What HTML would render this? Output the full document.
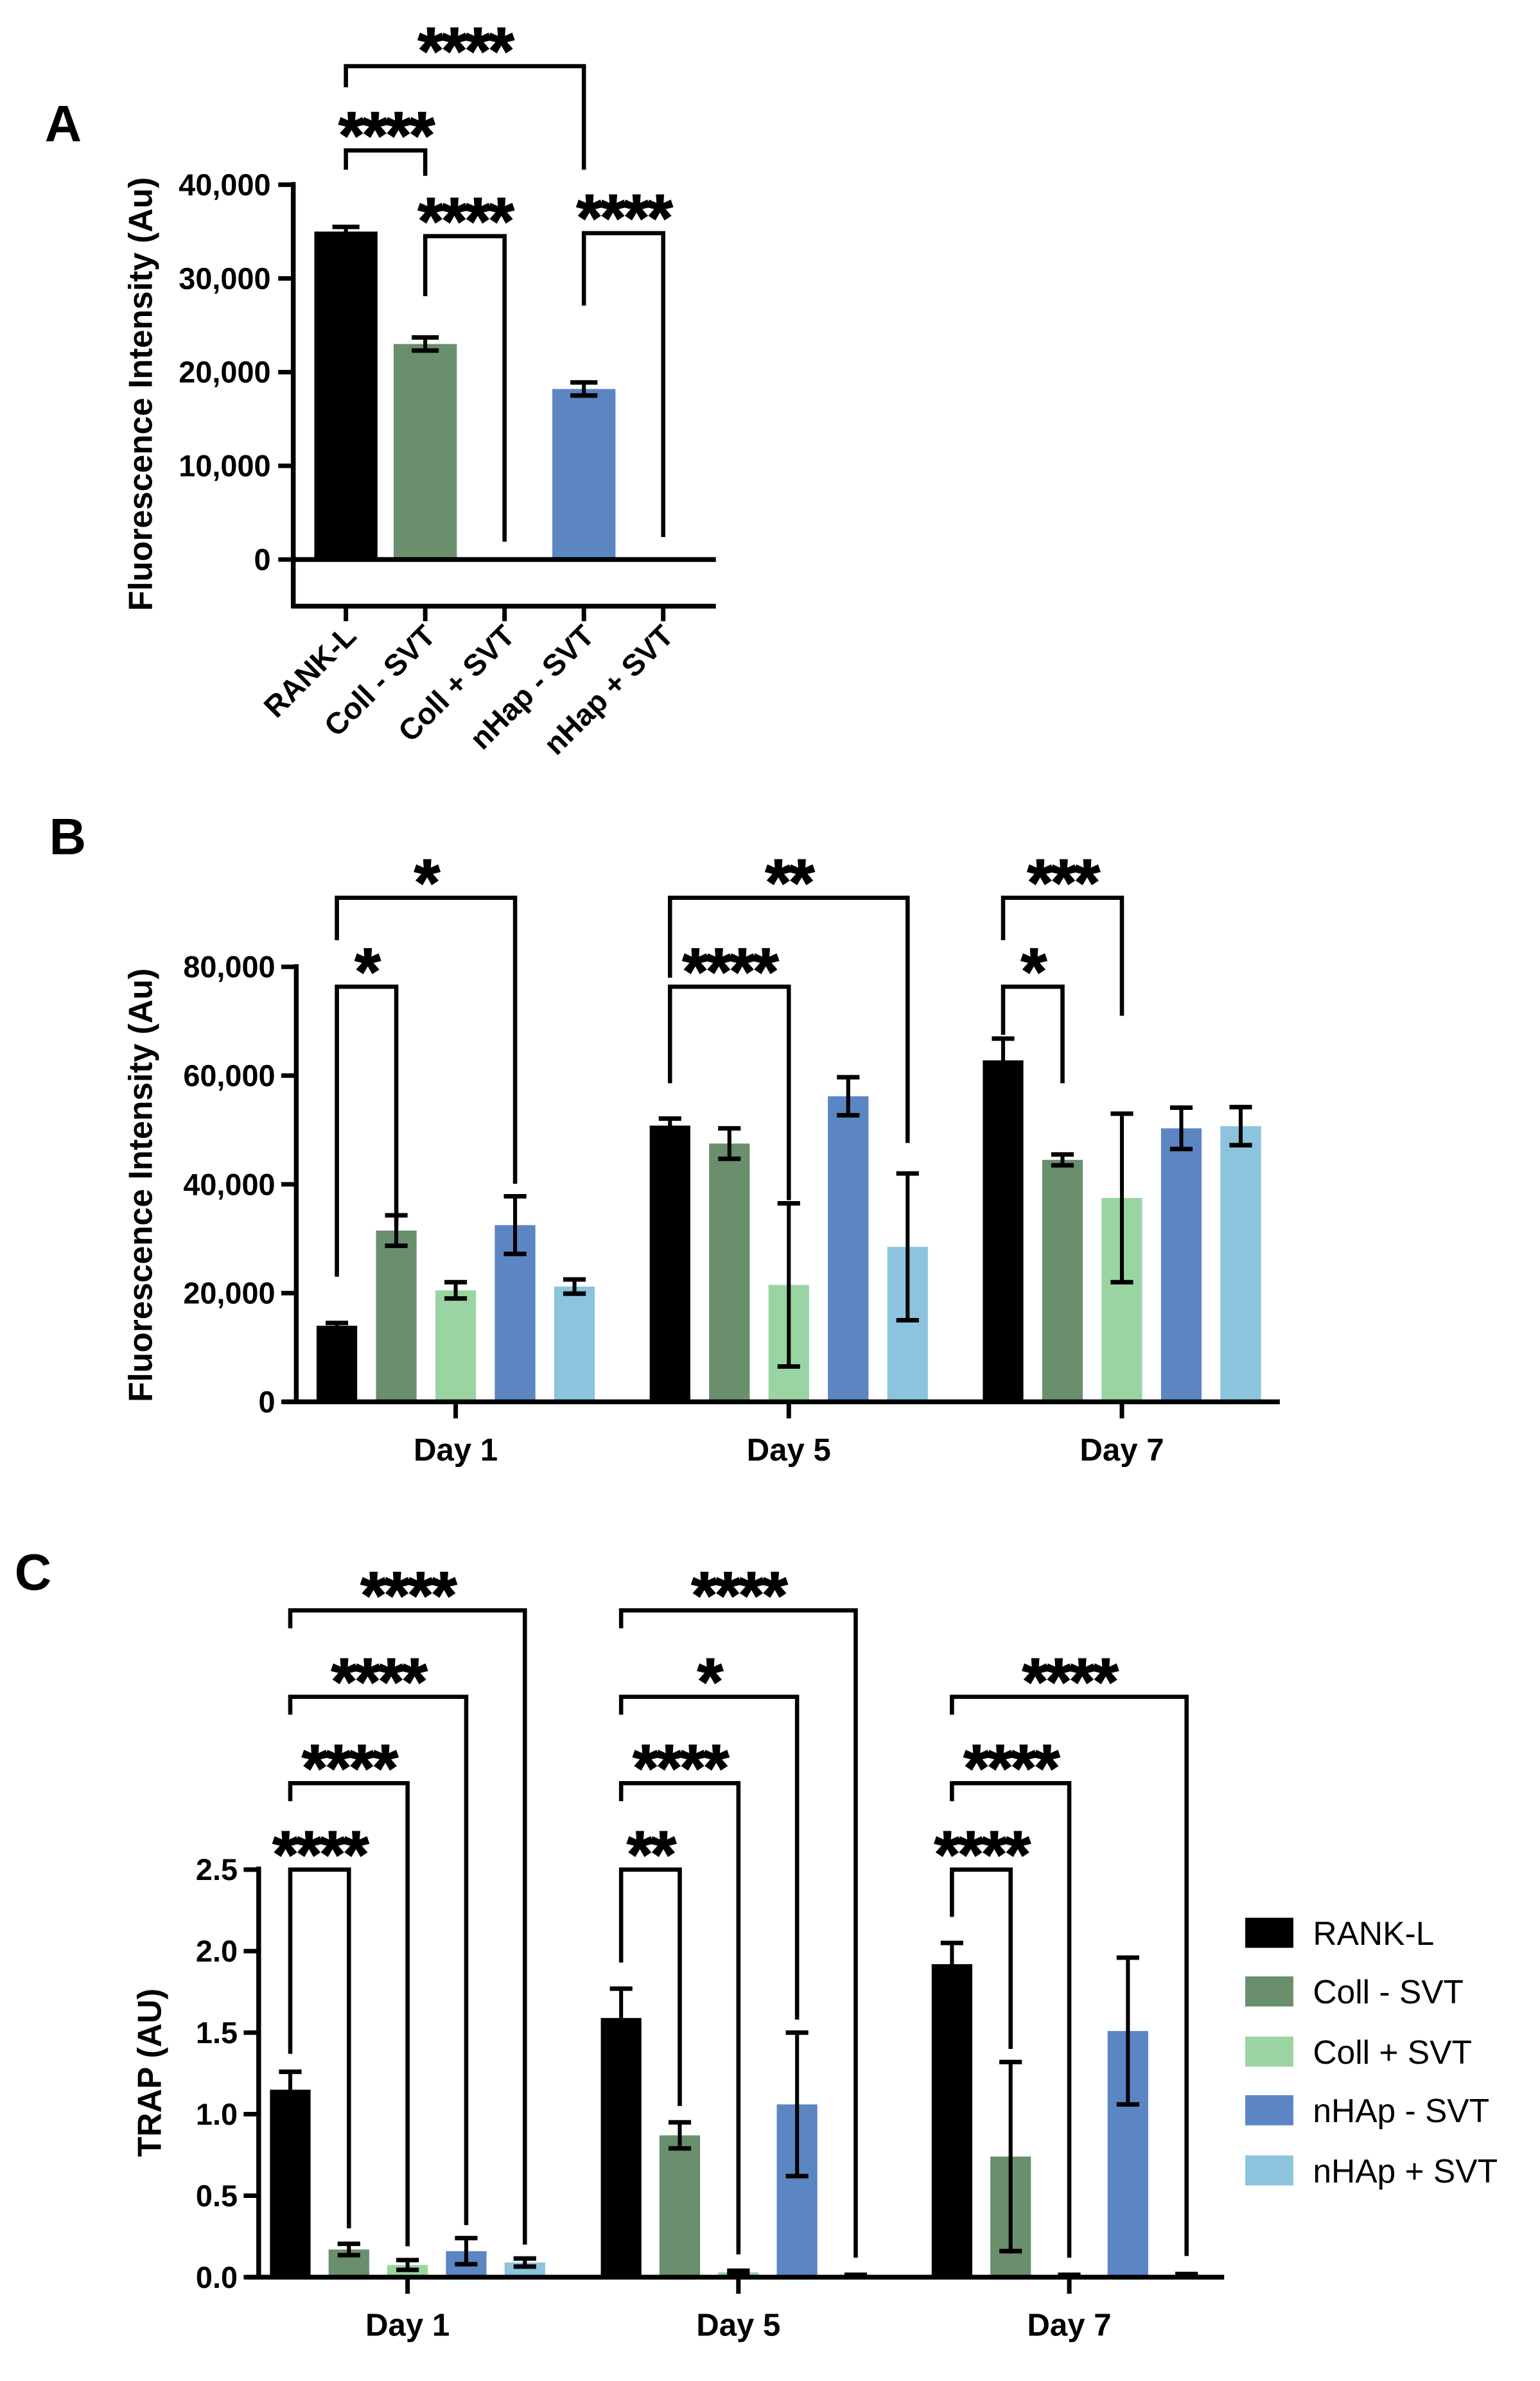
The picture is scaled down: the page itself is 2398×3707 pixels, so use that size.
<!DOCTYPE html>
<html><head><meta charset="utf-8"><style>
html,body{margin:0;padding:0;background:#fff;}
svg{display:block;}
text{font-family:"Liberation Sans",Arial,sans-serif;}
</style></head><body>
<svg id="fig" xmlns="http://www.w3.org/2000/svg" width="2398" height="3707" viewBox="0 0 1024 1583">
<rect width="1024" height="1583" fill="#fff"/>
</svg>
<script>
// ---------- DATA ----------
const colors = ["#000000", "#6a8f6d", "#9bd4a3", "#5b86c3", "#8cc4de"];
const seriesNames = ["RANK-L", "Coll - SVT", "Coll + SVT", "nHAp - SVT", "nHAp + SVT"];

// Panel A
const aCategories = ["RANK-L", "Coll - SVT", "Coll + SVT", "nHap - SVT", "nHap + SVT"];
const aValues = [35000, 23000, -200, 18200, -150];
const aErrors = [500, 700, 0, 700, 0];
const aTicks = [0, 10000, 20000, 30000, 40000];
const aTickLabels = ["0", "10,000", "20,000", "30,000", "40,000"];
const aBrackets = [
  [0, 1, 43660, 41600, 40950, "****"],
  [0, 3, 52650, 50400, 41600, "****"],
  [1, 2, 34510, 28100, 1900, "****"],
  [3, 4, 34830, 27100, 2400, "****"]
];

// Panel B
const bGroups = ["Day 1", "Day 5", "Day 7"];
const bRankL = [14000, 50800, 62800];
const bCollMinus = [31500, 47500, 44500];
const bCollPlus = [20500, 21500, 37500];
const bHapMinus = [32500, 56200, 50300];
const bHapPlus = [21200, 28500, 50700];
const bErrRankL = [500, 1300, 4000];
const bErrCollMinus = [2800, 2800, 1000];
const bErrCollPlus = [1500, 15000, 15500];
const bErrHapMinus = [5300, 3500, 3800];
const bErrHapPlus = [1300, 13500, 3500];
const bTicks = [0, 20000, 40000, 60000, 80000];
const bTickLabels = ["0", "20,000", "40,000", "60,000", "80,000"];
const bBrackets = [
  [0, 0, 3, 92700, 84900, 40100, "*"],
  [0, 0, 1, 76350, 23000, 32400, "*"],
  [1, 0, 4, 92700, 78000, 47600, "**"],
  [1, 0, 2, 76350, 58600, 37100, "****"],
  [2, 0, 2, 92700, 84900, 71000, "***"],
  [2, 0, 1, 76350, 67500, 58600, "*"]
];

// Panel C
const cGroups = ["Day 1", "Day 5", "Day 7"];
const cRankL = [1.15, 1.59, 1.92];
const cCollMinus = [0.17, 0.87, 0.74];
const cCollPlus = [0.075, 0.03, 0.01];
const cHapMinus = [0.16, 1.06, 1.51];
const cHapPlus = [0.09, 0.01, 0.015];
const cErrRankL = [0.11, 0.18, 0.13];
const cErrCollMinus = [0.035, 0.08, 0.58];
const cErrCollPlus = [0.03, 0.01, 0.005];
const cErrHapMinus = [0.08, 0.44, 0.45];
const cErrHapPlus = [0.025, 0.005, 0.005];
const cTicks = [0, 0.5, 1.0, 1.5, 2.0, 2.5];
const cTickLabels = ["0.0", "0.5", "1.0", "1.5", "2.0", "2.5"];
const cBrackets = [
  [0, 0, 4, 4.09, 3.98, 0.20, "****"],
  [0, 0, 3, 3.56, 3.45, 0.32, "****"],
  [0, 0, 2, 3.03, 2.92, 0.19, "****"],
  [0, 0, 1, 2.50, 1.37, 0.30, "****"],
  [1, 0, 4, 4.09, 3.98, 0.12, "****"],
  [1, 0, 3, 3.56, 3.45, 1.58, "*"],
  [1, 0, 2, 3.03, 2.92, 0.14, "****"],
  [1, 0, 1, 2.50, 1.93, 1.05, "**"],
  [2, 0, 4, 3.56, 3.45, 0.13, "****"],
  [2, 0, 2, 3.03, 2.92, 0.12, "****"],
  [2, 0, 1, 2.50, 2.21, 1.40, "****"]
];

// ---------- HELPERS ----------
const svg = document.getElementById('fig');
const NS = "http://www.w3.org/2000/svg";
function mk(tag, attrs, parent, txt) {
  const e = document.createElementNS(NS, tag);
  for (const k in attrs) e.setAttribute(k, attrs[k]);
  if (txt !== undefined) e.textContent = txt;
  (parent || svg).appendChild(e);
  return e;
}
function line(x1, y1, x2, y2, w, name, g) {
  const e = mk('line', {x1, y1, x2, y2, stroke: '#000', 'stroke-width': w}, g);
  
  
  return e;
}
function txt(x, y, s, size, anchor, weight, name, g, extra) {
  const e = mk('text', Object.assign({x, y, 'font-size': size, 'text-anchor': anchor, 'font-weight': weight, fill: '#000'}, extra || {}), g, s);
  
  
  return e;
}
function stars(cx, cy, s, g) {
  return txt(cx, cy + 25, s, 44, 'middle', 'bold', 'significance-stars', g, {'letter-spacing': '-1.5', stroke: '#000', 'stroke-width': 0.8});
}
function bar(x, y0, y1, w, color, g) {
  const top = Math.min(y0, y1), h = Math.abs(y1 - y0);
  const e = mk('rect', {x: x - w / 2, y: top, width: w, height: Math.max(h, 1.5), fill: color}, g);
  
  
}
function errbar(x, yHi, yLo, cap, g) {
  line(x, yHi, x, yLo, 2.6, 'error-bar', g);
  line(x - cap, yHi, x + cap, yHi, 3, 'error-cap', g);
  line(x - cap, yLo, x + cap, yLo, 3, 'error-cap', g);
}
function bracket(x1, x2, yLev, yL, yR, label, g) {
  const p = mk('path', {d: `M${x1},${yL} V${yLev} H${x2} V${yR}`, fill: 'none', stroke: '#000', 'stroke-width': 2.8}, g);
  
  
  stars((x1 + x2) / 2, yLev - 20, label, g);
}

// ---------- PANEL A ----------
(function () {
  const g = mk('g', {});
  
  
  const y = v => 372 - v / 10000 * 62.3;
  const x = i => 230 + i * 52.75;
  txt(42, 94, 'A', 34, 'middle', 'bold', 'panel-label-a', g);
  aCategories.forEach((c, i) => {
    bar(x(i), y(0), y(aValues[i]), 42, colors[i], g);
    if (aErrors[i] > 0) errbar(x(i), y(aValues[i] + aErrors[i]), y(aValues[i] - aErrors[i]), 9, g);
    line(x(i), 403, x(i), 413, 3, 'x-tick', g);
    txt(0, 0, c, 20, 'end', 'bold', 'x-category-label', g, {transform: `translate(${x(i) + 8},${424}) rotate(-45)`});
  });
  line(195, y(0), 476, y(0), 3.2, 'zero-line', g);
  line(195, 121, 195, 404.5, 3.2, 'y-axis', g);
  line(194, 403, 476, 403, 3.2, 'x-axis', g);
  aTicks.forEach((t, i) => {
    line(185, y(t), 196, y(t), 3, 'y-tick', g);
    txt(180, y(t) + 7, aTickLabels[i], 20, 'end', 'bold', 'y-tick-label', g);
  });
  txt(0, 0, 'Fluorescence Intensity (Au)', 22, 'middle', 'bold', 'y-axis-title', g, {transform: 'translate(101,262) rotate(-90)'});
  aBrackets.forEach(b => bracket(x(b[0]), x(b[1]), y(b[2]), y(b[3]), y(b[4]), b[5], g));
})();

// ---------- PANEL B ----------
(function () {
  const g = mk('g', {});
  
  
  const y = v => 932 - v / 20000 * 72.3;
  const gx = gi => 303 + gi * 221.5;
  const x = (gi, s) => gx(gi) + (s - 2) * 39.5;
  const vals = [bRankL, bCollMinus, bCollPlus, bHapMinus, bHapPlus];
  const errs = [bErrRankL, bErrCollMinus, bErrCollPlus, bErrHapMinus, bErrHapPlus];
  txt(45, 568, 'B', 34, 'middle', 'bold', 'panel-label-b', g);
  bGroups.forEach((d, gi) => {
    vals.forEach((sv, s) => {
      bar(x(gi, s), y(0), y(sv[gi]), 27, colors[s], g);
      errbar(x(gi, s), y(sv[gi] + errs[s][gi]), y(sv[gi] - errs[s][gi]), 7.5, g);
    });
    line(gx(gi), 932, gx(gi), 943, 3, 'x-tick', g);
    txt(gx(gi), 971, d, 21, 'middle', 'bold', 'x-group-label', g);
  });
  line(197, 641, 197, 933.5, 3.2, 'y-axis', g);
  line(188, 932, 851, 932, 3.2, 'x-axis', g);
  bTicks.forEach((t, i) => {
    line(187, y(t), 198, y(t), 3, 'y-tick', g);
    txt(183, y(t) + 7, bTickLabels[i], 20, 'end', 'bold', 'y-tick-label', g);
  });
  txt(0, 0, 'Fluorescence Intensity (Au)', 22, 'middle', 'bold', 'y-axis-title', g, {transform: 'translate(101,788) rotate(-90)'});
  bBrackets.forEach(b => bracket(x(b[0], b[1]), x(b[0], b[2]), y(b[3]), y(b[4]), y(b[5]), b[6], g));
})();

// ---------- PANEL C ----------
(function () {
  const g = mk('g', {});
  
  
  const y = v => 1514 - v / 0.5 * 54.2;
  const gx = gi => 271 + gi * 220;
  const x = (gi, s) => gx(gi) + (s - 2) * 39;
  const vals = [cRankL, cCollMinus, cCollPlus, cHapMinus, cHapPlus];
  const errs = [cErrRankL, cErrCollMinus, cErrCollPlus, cErrHapMinus, cErrHapPlus];
  txt(22, 1057, 'C', 34, 'middle', 'bold', 'panel-label-c', g);
  cGroups.forEach((d, gi) => {
    vals.forEach((sv, s) => {
      bar(x(gi, s), y(0), y(sv[gi]), 27, colors[s], g);
      errbar(x(gi, s), y(sv[gi] + errs[s][gi]), y(sv[gi] - errs[s][gi]), 7.5, g);
    });
    line(gx(gi), 1514, gx(gi), 1525, 3, 'x-tick', g);
    txt(gx(gi), 1553, d, 21, 'middle', 'bold', 'x-group-label', g);
  });
  line(172, 1241, 172, 1515.5, 3.2, 'y-axis', g);
  line(163, 1514, 814, 1514, 3.2, 'x-axis', g);
  cTicks.forEach((t, i) => {
    line(162, y(t), 173, y(t), 3, 'y-tick', g);
    txt(158, y(t) + 7, cTickLabels[i], 20, 'end', 'bold', 'y-tick-label', g);
  });
  txt(0, 0, 'TRAP (AU)', 22, 'middle', 'bold', 'y-axis-title', g, {transform: 'translate(107,1378) rotate(-90)'});
  cBrackets.forEach(b => bracket(x(b[0], b[1]), x(b[0], b[2]), y(b[3]), y(b[4]), y(b[5]), b[6], g));
  const lg = mk('g', {}, g);
  
  
  const legY = [1285, 1324, 1364, 1403, 1443];
  seriesNames.forEach((n, i) => {
    const r = mk('rect', {x: 828, y: legY[i] - 10, width: 32, height: 20, fill: colors[i]}, lg);
    
    
    txt(873, legY[i] + 8, n, 22, 'start', 'normal', 'legend-entry', lg);
  });
})();
</script>
</body></html>
